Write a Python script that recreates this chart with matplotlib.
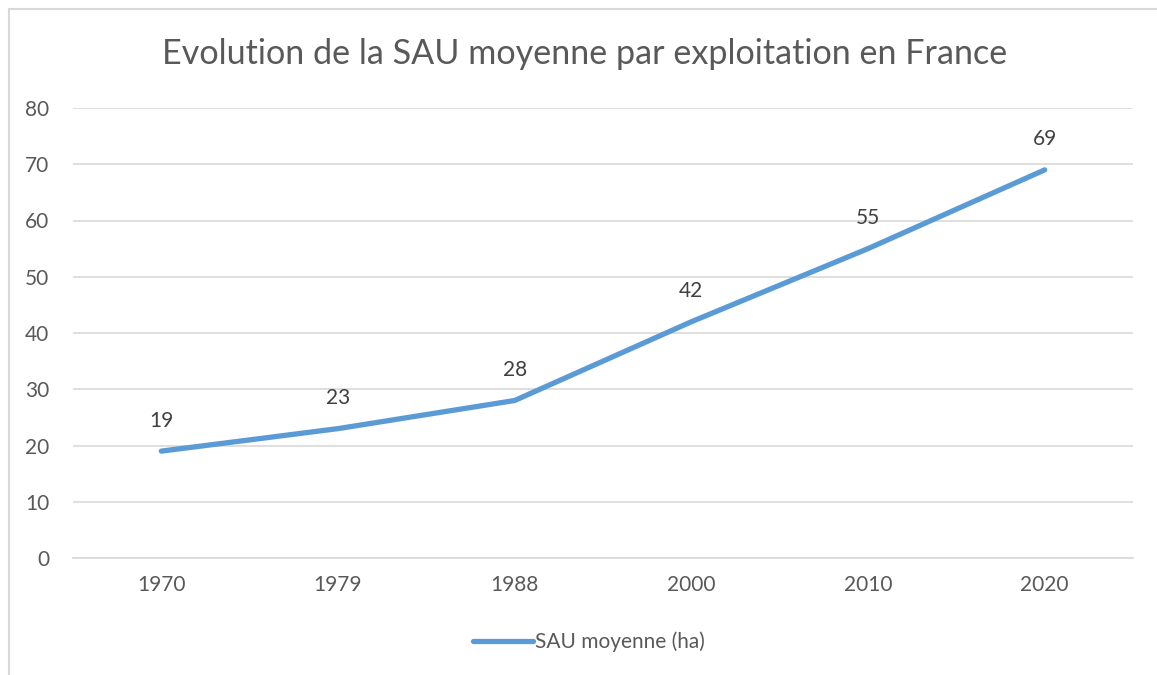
import matplotlib
matplotlib.use("Agg")
from matplotlib import pyplot as plt
from matplotlib.patches import Rectangle

years = ["1970", "1979", "1988", "2000", "2010", "2020"]
sau = [19, 23, 28, 42, 55, 69]

plt.rcParams["font.family"] = ["Lato", "DejaVu Sans"]

fig = plt.figure(figsize=(11.57, 6.75), dpi=100)
ax = fig.add_axes([73 / 1157, 117 / 675, 1060 / 1157, 450 / 675])

# chart frame (cut at right and bottom like the screenshot)
fig.patches.append(Rectangle((9 / 1157, -0.1), 1.2, 0.1 + 666 / 675, transform=fig.transFigure,
                             fill=False, edgecolor="#d9d9d9", linewidth=1.5))

x = list(range(len(years)))
ax.plot(x, sau, color="#5b9bd5", linewidth=3.8, solid_capstyle="round", label="SAU moyenne (ha)")
for xi, v in zip(x, sau):
    ax.annotate(str(v), (xi, v), xytext=(0, 22), textcoords="offset points",
                ha="center", va="center", fontsize=15, color="#404040")

ax.set_xlim(-0.5, 5.5)
ax.set_ylim(0, 80)
ax.set_yticks(range(0, 81, 10))
ax.set_xticks(x)
ax.set_xticklabels(years)
ax.yaxis.grid(True, color="#d9d9d9", linewidth=1.2)
ax.set_axisbelow(True)
for s in ["top", "right", "left"]:
    ax.spines[s].set_visible(False)
ax.spines["bottom"].set_color("#d9d9d9")
ax.spines["bottom"].set_linewidth(1.2)
ax.tick_params(length=0, labelsize=15, labelcolor="#595959")
ax.tick_params(axis="y", pad=17)
ax.tick_params(axis="x", pad=12)

fig.text(585 / 1157, 1 - 54 / 675, "Evolution de la SAU moyenne par exploitation en France",
         ha="center", va="center", fontsize=24.6, color="#595959")

fig.legend(loc="center", bbox_to_anchor=(589 / 1157, 1 - 642 / 675), frameon=False,
           fontsize=15, labelcolor="#595959", handlelength=2.9, handletextpad=0.1)

fig.savefig("out.png", dpi=100, facecolor="white")
